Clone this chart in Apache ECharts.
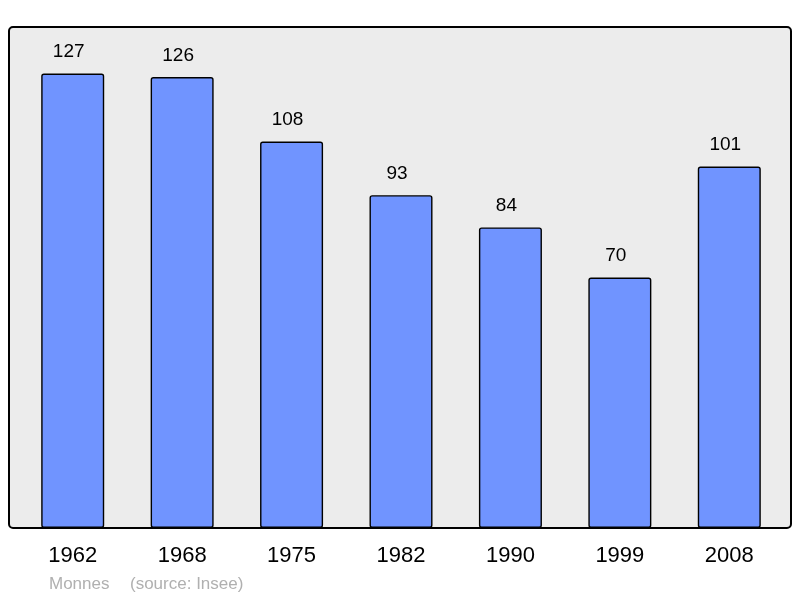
<!DOCTYPE html>
<html><head><meta charset="utf-8">
<script src="https://cdn.jsdelivr.net/npm/echarts@6/dist/echarts.min.js"></script>
<style>html,body{margin:0;padding:0;background:#fff}#c{width:800px;height:598px}</style>
</head><body><div id="c"></div>
<script>
var categories = ['1962','1968','1975','1982','1990','1999','2008'];
var population = [127,126,108,93,84,70,101];
var chart = echarts.init(document.getElementById('c'));
chart.setOption({
  animation: false,
  textStyle: {fontFamily: 'Liberation Sans, Arial, sans-serif'},
  title: [
    {text: 'Monnes', left: 49, top: 576, padding: 0, textStyle: {fontSize: 17, fontWeight: 'normal', color: '#b0b0b0', fontFamily: 'Liberation Sans'}},
    {text: '(source: Insee)', left: 130, top: 576, padding: 0, textStyle: {fontSize: 17, fontWeight: 'normal', color: '#b0b0b0', fontFamily: 'Liberation Sans'}}
  ],
  graphic: [{
    type: 'rect', z: -10, silent: true,
    shape: {x: 9, y: 27, width: 782, height: 501, r: 4},
    style: {fill: '#ececec', stroke: '#000', lineWidth: 2}
  }],
  grid: {left: 18, right: 16, top: 27, bottom: 70},
  xAxis: {
    type: 'category', data: categories,
    axisLine: {show: false}, axisTick: {show: false},
    axisLabel: {fontSize: 22, color: '#000', margin: 17, fontFamily: 'Liberation Sans'}
  },
  yAxis: {
    type: 'value', min: 0, max: 140, show: false,
    splitLine: {show: false}
  },
  series: [{
    type: 'bar', data: population, barWidth: 63,
    itemStyle: {color: '#7094ff', borderColor: '#000', borderWidth: 1.4, borderRadius: 2},
    label: {show: true, position: 'top', distance: 12, offset: [-4, 0], fontSize: 19, color: '#000', fontFamily: 'Liberation Sans'}
  }]
});
</script></body></html>
